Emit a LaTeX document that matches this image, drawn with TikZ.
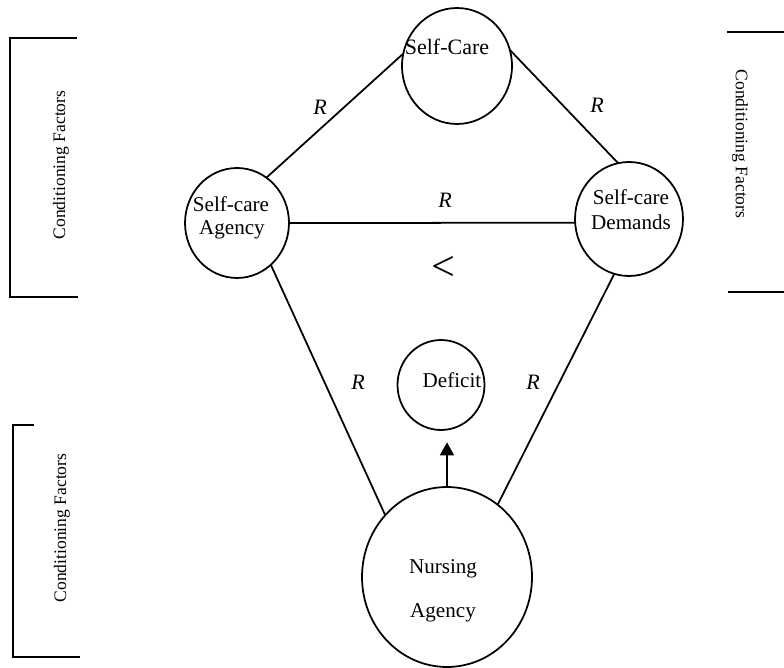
\documentclass[tikz,border=0pt]{standalone}
\usepackage{fontspec}
\setmainfont{Liberation Serif}
\usetikzlibrary{shapes.geometric,arrows.meta}
\begin{document}
\begin{tikzpicture}[x=0.02cm,y=-0.02cm,
  circ/.style={draw,ellipse,line width=1pt,inner sep=0pt,outer sep=0pt},
  lbl/.style={font=\fontsize{12}{13}\selectfont,inner sep=0pt,anchor=base},
  rel/.style={font=\fontsize{12.5}{13}\selectfont\itshape,inner sep=0pt},
  conn/.style={line width=1pt},
  cf/.style={font=\fontsize{10}{11}\selectfont,inner sep=0pt},
  brk/.style={line width=1pt}]
\useasboundingbox (0,0) rectangle (784,668);
% circles
\node[circ,minimum width=2.2cm,minimum height=2.32cm] (sc) at (457,66) {};
\node[circ,minimum width=2.08cm,minimum height=2.2cm] (ag) at (237,223) {};
\node[circ,minimum width=2.16cm,minimum height=2.28cm] (dm) at (629,219) {};
\node[circ,minimum width=1.74cm,minimum height=1.8cm] (df) at (441,385) {};
\node[circ,minimum width=3.4cm,minimum height=3.6cm] (na) at (447,577) {};
% texts
\node[lbl,font=\fontsize{12.5}{13}\selectfont] (tsc) at (447,55) {Self-Care};
\node[lbl] (tag1) at (231,212) {Self-care};
\node[lbl] (tag2) at (232,235) {Agency};
\node[lbl] (tdm1) at (631,205) {Self-care};
\node[lbl] (tdm2) at (631,230) {Demands};
\node[lbl] (tdf) at (452,388) {Deficit};
\node[lbl] (tna1) at (443,573) {Nursing};
\node[lbl] (tna2) at (443,617) {Agency};
% connectors
\draw[conn] (sc.167) -- (ag.57);
\draw[conn] (sc.17) -- (dm.101);
\draw[conn] (ag.0) -- (dm.184);
\draw[conn] (ag.-51) -- (na.135);
\draw[conn] (dm.255) -- (na.55);
\draw[conn,-{Triangle[length=7.5pt,width=8pt]},shorten >=7pt] (na.north) -- (na.north |- df.south);
% relation labels
\node[rel] (r1) at (320,107) {R};
\node[rel] (r2) at (597,105) {R};
\node[rel] (r3) at (445,200) {R};
\node[rel] (r4) at (358,382) {R};
\node[rel] (r5) at (533,382) {R};
\node[inner sep=0pt,font=\fontsize{24}{24}\selectfont] (lt) at (443,268) {<};
% conditioning factors brackets
\draw[brk] (77,38) -- (10,38) -- (10,297) -- (78,297);
\node[cf,rotate=90] (cf1) at (61,165) {Conditioning Factors};
\draw[brk] (727,32) -- (784,32);
\draw[brk] (728,292) -- (784,292);
\node[cf,rotate=-90] (cf2) at (740,144) {Conditioning Factors};
\draw[brk] (34,425) -- (13,425) -- (13,657) -- (80,657);
\node[cf,rotate=90] (cf3) at (62,528) {Conditioning Factors};
\end{tikzpicture}
\end{document}
